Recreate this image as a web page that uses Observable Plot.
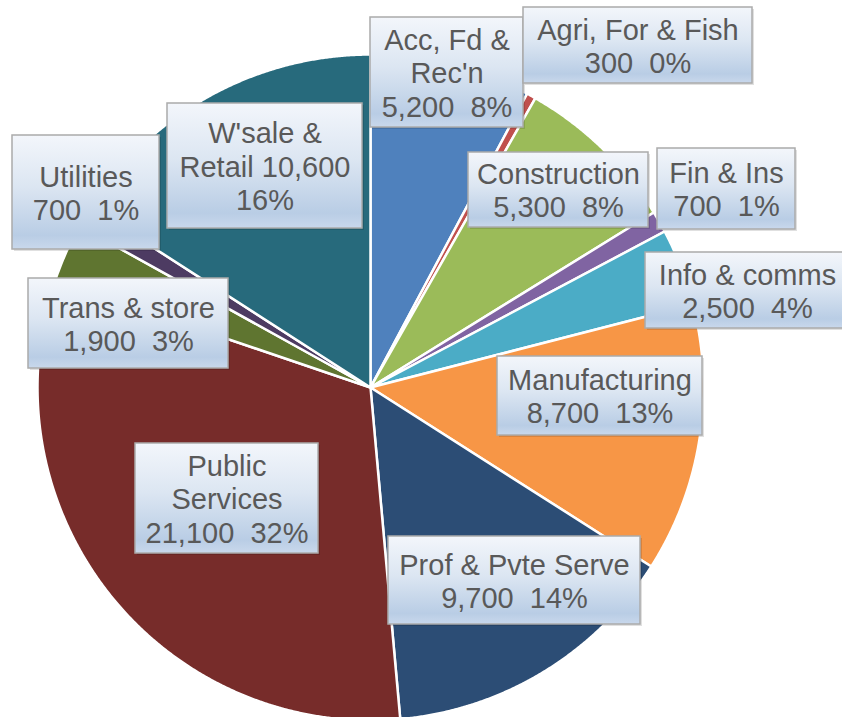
<!DOCTYPE html>
<html><head><meta charset="utf-8">
<script src="https://cdn.jsdelivr.net/npm/d3@7"></script>
<script src="https://cdn.jsdelivr.net/npm/@observablehq/plot@0.6"></script>
<style>html,body{margin:0;padding:0;background:#fff;overflow:hidden}#chart svg{display:block}</style>
</head><body><div id="chart"></div>
<script>
// ---- data ----
const sectors = ["Acc, Fd & Rec'n","Agri, For & Fish","Construction","Fin & Ins","Info & comms","Manufacturing","Prof & Pvte Serve","Public Services","Trans & store","Utilities","W'sale & Retail"];
const values = [5200,300,5300,700,2500,8700,9700,21100,1900,700,10600];
const percents = [8,0,8,1,4,13,14,32,3,1,16];
const labelNames = ["Acc, Fd &\nRec'n","Agri, For & Fish","Construction","Fin & Ins","Info & comms","Manufacturing","Prof & Pvte Serve","Public\nServices","Trans & store","Utilities","W'sale &\nRetail"];
const colors = ["#4F81BD","#C0504D","#9BBB59","#8064A2","#4BACC6","#F79646","#2C4D75","#772C2A","#5F7530","#4D3B62","#276A7C"];

// ---- layout ----
const W = 842, H = 717;
const pieCenter = [370, 387], pieRadius = 333;
const labelBoxes = [
  [370, 17, 523, 127],
  [523, 7, 752, 83],
  [468, 152, 648, 227],
  [657, 148, 795, 229],
  [645, 252, 849, 328],
  [497, 356, 702, 435],
  [388, 536, 640, 624],
  [135, 443, 318, 553],
  [28, 278, 228, 368],
  [12, 135, 159, 249],
  [167, 103, 362, 228]
];
const inlineValue = ["W'sale & Retail"];

// ---- pie geometry via d3.pie ----
const arcs = d3.pie().sort(null).value(d => d)(values);
const slicePts = [];
arcs.forEach((a, i) => {
  const [cx, cy] = pieCenter, r = pieRadius;
  slicePts.push({sector: sectors[i], x: cx, y: cy});
  const n = Math.max(2, Math.ceil((a.endAngle - a.startAngle) / 0.004));
  for (let k = 0; k <= n; k++) {
    const t = a.startAngle + (a.endAngle - a.startAngle) * k / n;
    slicePts.push({sector: sectors[i], x: cx + r * Math.sin(t), y: cy - r * Math.cos(t)});
  }
});

const fmt = d3.format(",");
const labels = sectors.map((s, i) => {
  const [x1, y1, x2, y2] = labelBoxes[i];
  const inline = inlineValue.includes(s);
  const text = inline
    ? labelNames[i] + " " + fmt(values[i]) + "\n" + percents[i] + "%"
    : labelNames[i] + "\n" + fmt(values[i]) + "\u00a0\u00a0" + percents[i] + "%";
  return {sector: s, x1, y1, x2, y2, cx: (x1 + x2) / 2, cy: (y1 + y2) / 2, text};
});

const svg = Plot.plot({
  width: W, height: H,
  margin: 0,
  x: {domain: [0, W], range: [0, W], axis: null},
  y: {domain: [0, H], range: [0, H], axis: null},
  color: {domain: sectors, range: colors},
  style: {background: "#fff", overflow: "hidden"},
  marks: [
    Plot.line(slicePts, {x: "x", y: "y", z: "sector", fill: "sector", stroke: "#fff", strokeWidth: 2.5, curve: "linear-closed", strokeLinejoin: "miter", strokeMiterlimit: 4}),
    Plot.rect(labels, {x1: "x1", x2: "x2", y1: "y1", y2: "y2", fill: "#000", fillOpacity: 0.12, dx: 2, dy: 2}),
    Plot.rect(labels, {x1: "x1", x2: "x2", y1: "y1", y2: "y2", fill: "url(#boxGrad)", stroke: "#ABABAB", strokeWidth: 1.5}),
    Plot.text(labels, {x: "cx", y: "cy", text: "text", fontSize: 29, fontFamily: "'Liberation Sans', Arial, sans-serif", fill: "#595959", lineHeight: 1.15, textAnchor: "middle"})
  ]
});

const defs = d3.select(svg).insert("defs", ":first-child");
const g = defs.append("linearGradient").attr("id", "boxGrad").attr("x1", 0).attr("y1", 0).attr("x2", 0).attr("y2", 1);
[["0%", "#F3F6FB"], ["45%", "#DCE6F2"], ["88%", "#B9CDE5"], ["100%", "#C9D8EC"]].forEach(([o, c]) =>
  g.append("stop").attr("offset", o).attr("stop-color", c));

document.getElementById("chart").appendChild(svg);
</script>
</body></html>
